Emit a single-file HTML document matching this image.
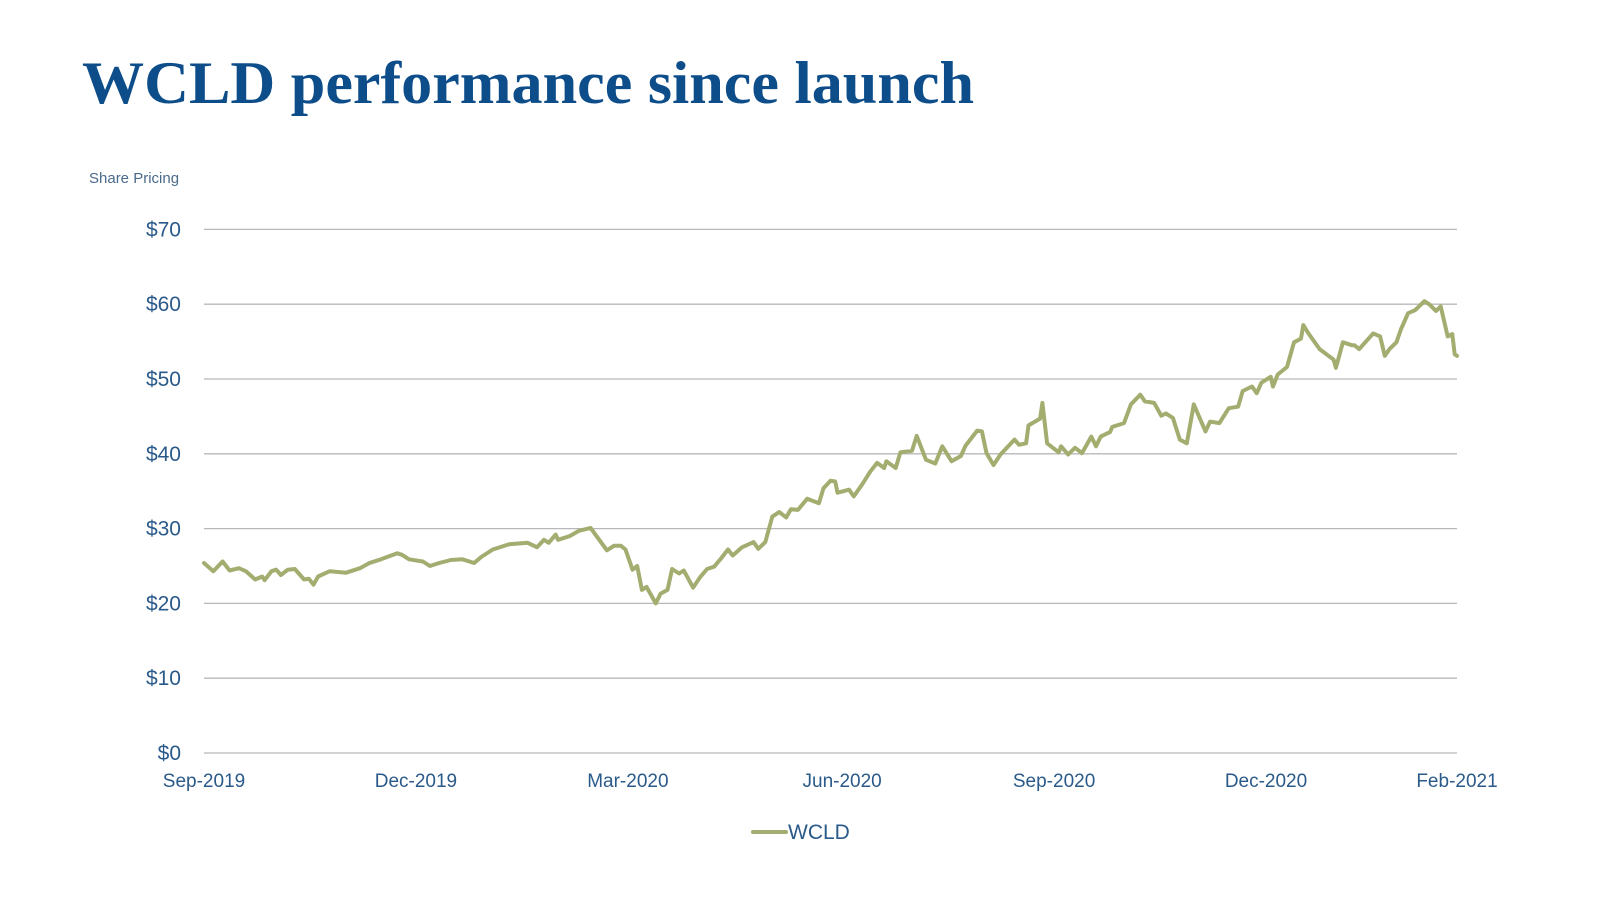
<!DOCTYPE html>
<html><head><meta charset="utf-8"><style>
html,body{margin:0;padding:0;background:#fff;}
svg{display:block;}
</style></head><body>
<svg id="chart" width="1600" height="900" xmlns="http://www.w3.org/2000/svg">
<text x="82" y="103" font-family="'Liberation Serif',serif" font-weight="bold" font-size="60" fill="#0d4d8a" textLength="892" lengthAdjust="spacingAndGlyphs">WCLD performance since launch</text>
<text x="89" y="183" font-family="'Liberation Sans',sans-serif" font-size="15" fill="#4a6a8a">Share Pricing</text>
<g id="grid"></g>
<g id="yticks"></g>
<g id="xticks"></g>
<path id="line" fill="none" stroke="#a3ad70" stroke-width="4" stroke-linejoin="round" stroke-linecap="round"/>
<g>
<line x1="753" y1="832" x2="786" y2="832" stroke="#a3ad70" stroke-width="4" stroke-linecap="round"/>
<text x="788" y="839" font-family="'Liberation Sans',sans-serif" font-size="21" fill="#2a5a8a">WCLD</text>
</g>
</svg>
<script>
const days = [0,4,8,11,15,18,22,25,26,29,31,33,36,39,43,45,47,49,54,61,67,71,76,83,85,88,94,97,101,106,111,116,119,124,131,139,143,146,148,151,152,157,161,166,169,173,176,179,181,184,186,188,190,194,196,199,201,204,206,210,213,216,219,222,225,227,231,236,238,241,244,247,250,252,255,259,264,266,269,271,272,277,279,283,286,289,292,293,297,299,304,306,310,314,317,321,325,327,332,334,336,339,342,348,350,353,354,359,360,362,367,368,371,374,377,381,383,385,389,390,395,398,402,404,408,411,413,416,419,422,425,430,432,436,440,444,446,450,452,454,458,459,461,465,468,471,472,474,479,485,486,489,493,494,496,502,505,507,509,512,514,517,520,524,526,529,531,534,536,537,538];
const prices = [25.4,24.3,25.6,24.4,24.7,24.3,23.2,23.6,23.1,24.3,24.5,23.8,24.5,24.6,23.2,23.3,22.5,23.6,24.3,24.1,24.7,25.4,25.9,26.7,26.5,25.9,25.6,25.0,25.4,25.8,25.9,25.4,26.2,27.2,27.9,28.1,27.5,28.5,28.1,29.2,28.5,29.0,29.7,30.1,28.8,27.1,27.7,27.7,27.2,24.5,25.0,21.8,22.2,20.0,21.3,21.8,24.6,24.0,24.4,22.1,23.5,24.6,24.9,26.0,27.2,26.4,27.5,28.2,27.3,28.2,31.6,32.2,31.5,32.6,32.5,34.0,33.4,35.4,36.4,36.3,34.8,35.2,34.3,36.1,37.6,38.8,38.1,39.0,38.1,40.2,40.4,42.4,39.2,38.7,41.0,39.0,39.7,41.1,43.1,43.0,40.1,38.5,39.9,41.9,41.2,41.4,43.8,44.7,46.8,41.4,40.2,41.0,39.9,40.8,40.1,42.3,41.0,42.3,42.9,43.6,44.1,46.6,47.9,47.0,46.8,45.1,45.4,44.8,41.9,41.4,46.6,43.0,44.3,44.1,46.1,46.3,48.4,49.0,48.1,49.5,50.3,49.0,50.6,51.6,54.9,55.4,57.2,56.2,54.0,52.6,51.5,54.9,54.5,54.5,54.0,56.1,55.7,53.1,54.0,54.9,56.7,58.8,59.2,60.4,60.0,59.1,59.7,55.7,56.0,53.3,53.1];
const yTicks = [0,10,20,30,40,50,60,70];
const yTickLabels = ["$0","$10","$20","$30","$40","$50","$60","$70"];
const xTickDays = [0,91,182,274,365,456,538];
const xTickLabels = ["Sep-2019","Dec-2019","Mar-2020","Jun-2020","Sep-2020","Dec-2020","Feb-2021"];

const X0=204, X1=1457, Y0=753, Y1=229.4, DMAX=538, VMAX=70;
function xs(d){return X0+(d/DMAX)*(X1-X0);}
function ys(v){return Y0-(v/VMAX)*(Y0-Y1);}
const NS="http://www.w3.org/2000/svg";
const grid=document.getElementById('grid'), yt=document.getElementById('yticks'), xt=document.getElementById('xticks');
yTicks.forEach((v,i)=>{
  const l=document.createElementNS(NS,'line');
  
  
  l.setAttribute('x1',X0);l.setAttribute('x2',X1);
  l.setAttribute('y1',ys(v));l.setAttribute('y2',ys(v));
  l.setAttribute('stroke','#b8b8b8');l.setAttribute('stroke-width','1.3');
  grid.appendChild(l);
  const t=document.createElementNS(NS,'text');
  
  
  t.setAttribute('x',181);t.setAttribute('y',ys(v)+7);
  t.setAttribute('text-anchor','end');
  t.setAttribute('font-family',"'Liberation Sans',sans-serif");
  t.setAttribute('font-size','21');t.setAttribute('fill','#2a5a8a');
  t.textContent=yTickLabels[i];
  yt.appendChild(t);
});
xTickDays.forEach((d,i)=>{
  const t=document.createElementNS(NS,'text');
  
  
  t.setAttribute('x',xs(d));t.setAttribute('y',787);
  t.setAttribute('text-anchor','middle');
  t.setAttribute('font-family',"'Liberation Sans',sans-serif");
  t.setAttribute('font-size','19');t.setAttribute('fill','#2a5a8a');
  t.textContent=xTickLabels[i];
  xt.appendChild(t);
});
document.getElementById('line').setAttribute('d',days.map((d,i)=>(i?'L':'M')+xs(d).toFixed(1)+' '+ys(prices[i]).toFixed(1)).join(' '));
</script>
</body></html>
